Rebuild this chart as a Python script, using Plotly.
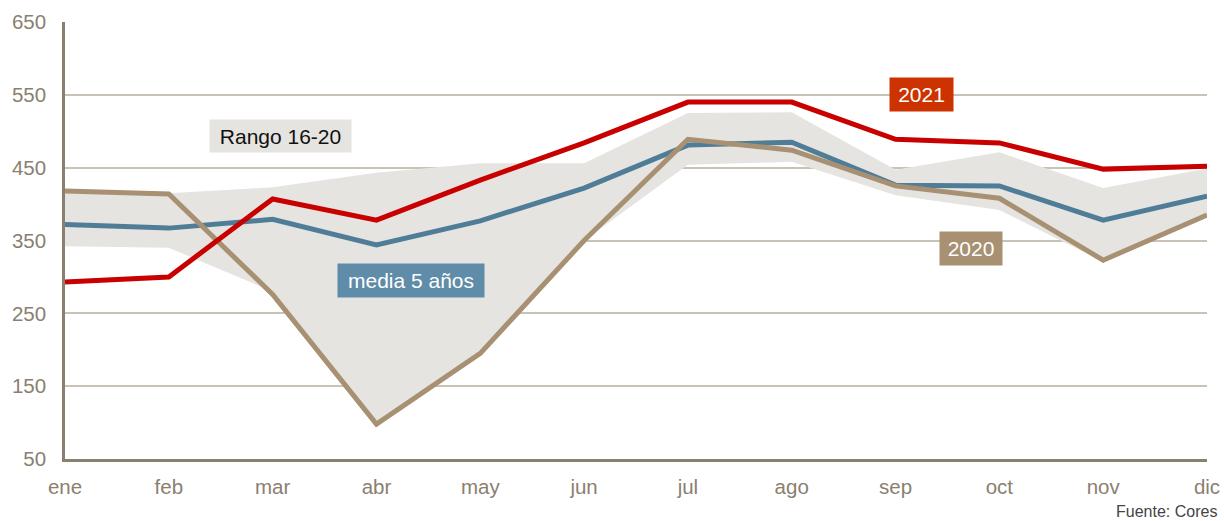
import plotly.graph_objects as go

months = ["ene", "feb", "mar", "abr", "may", "jun", "jul", "ago", "sep", "oct", "nov", "dic"]
y2021 = [293, 300, 407, 378, 433, 484, 540, 540, 489, 484, 448, 452]
media5 = [372, 367, 379, 344, 377, 422, 481, 485, 426, 425, 378, 411]
y2020 = [418, 414, 276, 98, 195, 350, 489, 474, 425, 408, 323, 385]
rango_max = [418, 415, 423, 443, 456, 456, 525, 526, 447, 471, 422, 449]
rango_min = [342, 340, 280, 98, 195, 350, 454, 458, 412, 392, 321, 383]
y_ticks = [50, 150, 250, 350, 450, 550, 650]

xs = list(range(len(months)))
font_family = "Liberation Sans, Arial, sans-serif"
tick_color = "#8a8070"

fig = go.Figure()
fig.add_trace(go.Scatter(x=xs, y=rango_min, mode="lines", line=dict(width=0, color="rgba(0,0,0,0)"),
                         showlegend=False, hoverinfo="skip"))
fig.add_trace(go.Scatter(x=xs, y=rango_max, mode="lines", line=dict(width=0, color="rgba(0,0,0,0)"),
                         fill="tonexty", fillcolor="#e6e4e0", showlegend=False, hoverinfo="skip"))
fig.add_trace(go.Scatter(x=xs, y=media5, mode="lines", line=dict(color="#4f7d98", width=5),
                         showlegend=False))
fig.add_trace(go.Scatter(x=xs, y=y2020, mode="lines", line=dict(color="#a89073", width=5),
                         showlegend=False))
fig.add_trace(go.Scatter(x=xs, y=y2021, mode="lines", line=dict(color="#c80000", width=5),
                         showlegend=False))

def label(text, x, y, w, h, bg, fc):
    fig.add_annotation(x=x, y=y, xref="x", yref="y", text=text, showarrow=False,
                       bgcolor=bg, width=w, height=h, borderpad=0,
                       font=dict(family=font_family, size=21, color=fc),
                       xanchor="center", yanchor="middle")

label("Rango 16-20", 2.08, 493, 141, 32, "#e6e4e0", "#111111")
label("media 5 años", 3.33, 295, 146, 33, "#5f8ca8", "#ffffff")
label("2021", 8.25, 550, 63, 33, "#cc3300", "#ffffff")
label("2020", 8.73, 339, 62, 33, "#a89073", "#ffffff")

fig.add_annotation(x=1.0105, y=-0.121, xref="paper", yref="paper", text="Fuente: Cores",
                   showarrow=False, xanchor="right", yanchor="middle",
                   font=dict(family=font_family, size=16, color="#444444"))

fig.update_layout(
    width=1224, height=521,
    margin=dict(l=65, r=17, t=22, b=62, autoexpand=False),
    paper_bgcolor="white", plot_bgcolor="white",
    font=dict(family=font_family),
)
fig.update_xaxes(range=[0, 11], tickvals=xs, ticktext=months, showgrid=False,
                 showline=True, linecolor="#8a8070", linewidth=2.5, automargin=False,
                 ticks="", ticklabelstandoff=8,
                 tickfont=dict(family=font_family, size=20.5, color=tick_color), zeroline=False)
fig.update_yaxes(range=[50, 650], tickvals=y_ticks, showgrid=True, gridcolor="#c9c3b6", gridwidth=2,
                 showline=True, linecolor="#8a8070", linewidth=2.5, automargin=False,
                 ticks="", ticklabelstandoff=12,
                 tickfont=dict(family=font_family, size=20.5, color=tick_color), zeroline=False)

fig.write_html(
    "out.html",
    config={"displayModeBar": False, "responsive": False},
    post_script=("document.documentElement.style.margin='0';"
                 "document.documentElement.style.overflow='hidden';"
                 "document.body.style.margin='0';document.body.style.padding='0';"
                 "document.body.style.overflow='hidden';"),
)
